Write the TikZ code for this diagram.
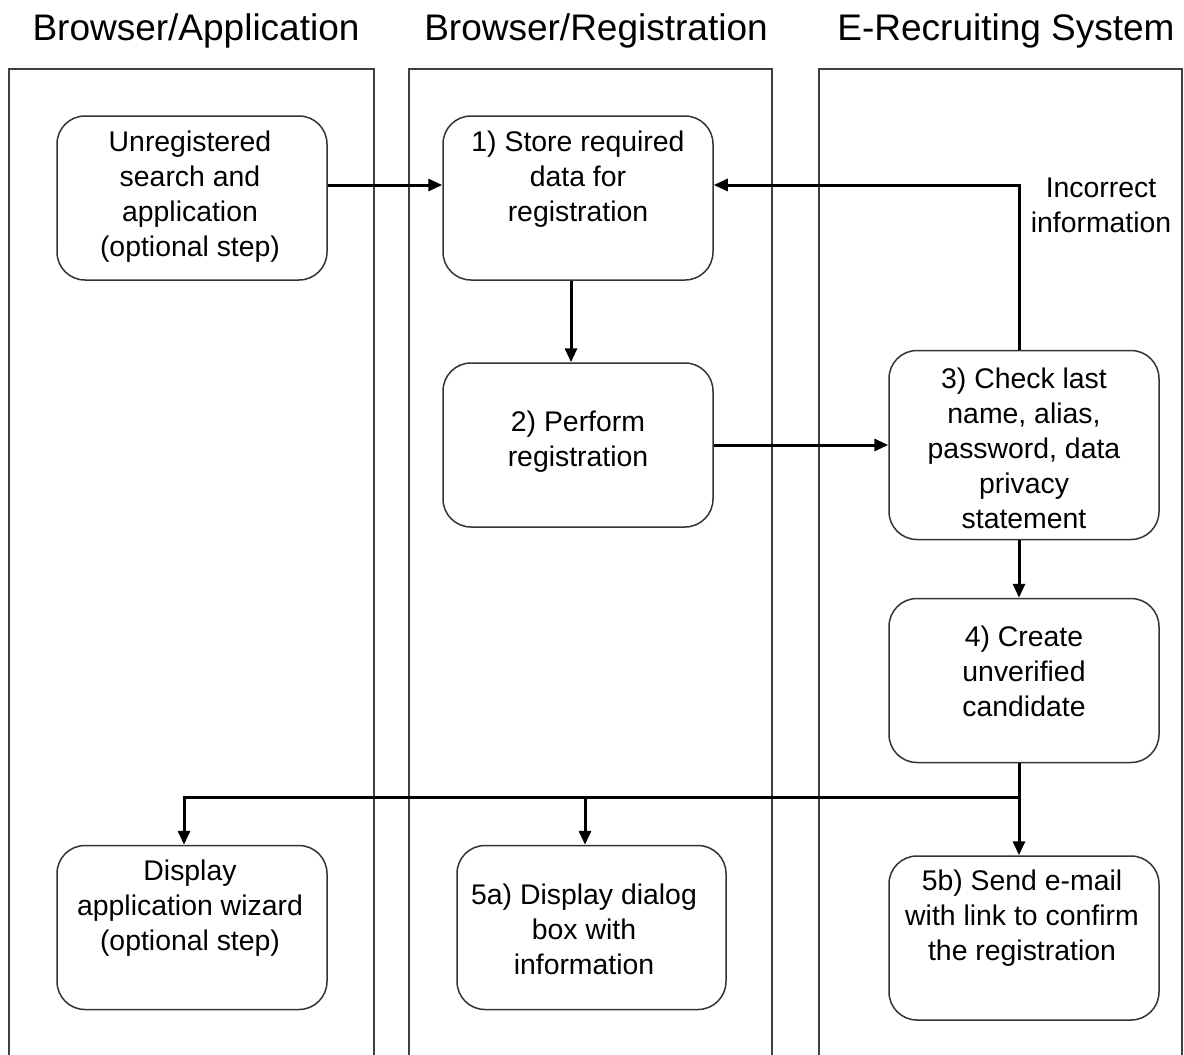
\documentclass[tikz,border=0pt]{standalone}
\usepackage{fontspec}
\setmainfont{Liberation Sans}
\usetikzlibrary{arrows.meta,calc}
\tikzset{
  lane/.style={draw=black!75, line width=0.75pt},
  box/.style={draw=black!80, line width=0.75pt, rounded corners=14pt, minimum width=135pt, minimum height=82pt, inner sep=0pt},
  txt/.style={align=center, font=\fontsize{14.2pt}{17.5pt}\selectfont, inner sep=0pt},
  ttl/.style={font=\fontsize{18.5pt}{22pt}\selectfont, inner sep=0pt},
  arr/.style={line width=1.5pt, -{Triangle[length=7pt,width=6pt]}},
  ln/.style={line width=1.5pt}
}
\begin{document}
\begin{tikzpicture}[x=0.5pt,y=-0.5pt]
\useasboundingbox (0,0) rectangle (1184,1055);
% titles
\node[ttl] (t1) at (196,31) {Browser/Application};
\node[ttl] (t2) at (596,31) {Browser/Registration};
\node[ttl] (t3) at (1006,31) {E-Recruiting System};
% lanes
\draw[lane] (9,1060) -- (9,69) -- (374,69) -- (374,1060);
\draw[lane] (409,1060) -- (409,69) -- (772,69) -- (772,1060);
\draw[lane] (819,1060) -- (819,69) -- (1182,69) -- (1182,1060);
% boxes
\node[box] (u) at (192,198) {};
\node[txt] (ut) at (190,197) {Unregistered\\search and\\application\\(optional step)};
\node[box] (b1) at (578,198) {};
\node[txt] (b1t) at (578,179) {1) Store required\\data for\\registration};
\node[box] (b2) at (578,445) {};
\node[txt] (b2t) at (578,442) {2) Perform\\registration};
\node[box, minimum height=94.5pt] (b3) at (1024,445) {};
\node[txt] (b3t) at (1024,448) {3) Check last\\name, alias,\\password, data\\privacy\\statement};
\node[box] (b4) at (1024,680.5) {};
\node[txt] (b4t) at (1024,671) {4) Create\\unverified\\candidate};
\node[box] (w) at (192,927.5) {};
\node[txt] (wt) at (190,908) {Display\\application wizard\\(optional step)};
\node[box, minimum width=134.5pt] (b5a) at (591.5,927.5) {};
\node[txt] (b5at) at (584,929) {5a) Display dialog\\box with\\information};
\node[box] (b5b) at (1024,938) {};
\node[txt] (b5bt) at (1022,918) {5b) Send e-mail\\with link to confirm\\the registration};
\node[txt] (inc) at (1101,205) {Incorrect\\information};
% helper coordinates
\coordinate (r1) at (0,185);
\coordinate (j) at (1019,797);
\coordinate (c5a) at (585,797);
% connectors
\draw[arr] (u.east |- r1) -- (b1.west |- r1);
\draw[arr] ($(b1.south)+(-7,0)$) -- ($(b2.north)+(-7,0)$);
\draw[arr] (b2.east) -- (b3.west);
\draw[arr] ($(b3.north)+(-5,0)$) |- (b1.east |- r1);
\draw[arr] ($(b3.south)+(-5,0)$) -- ($(b4.north)+(-5,0)$);
\draw[ln] ($(b4.south)+(-5,0)$) -- (j);
\draw[arr] (j) -- ($(b5b.north)+(-5,0)$);
\draw[arr] (j) -| ($(w.north)+(-8,0)$);
\draw[arr] (c5a) -- (b5a.north -| c5a);
\end{tikzpicture}
\end{document}
